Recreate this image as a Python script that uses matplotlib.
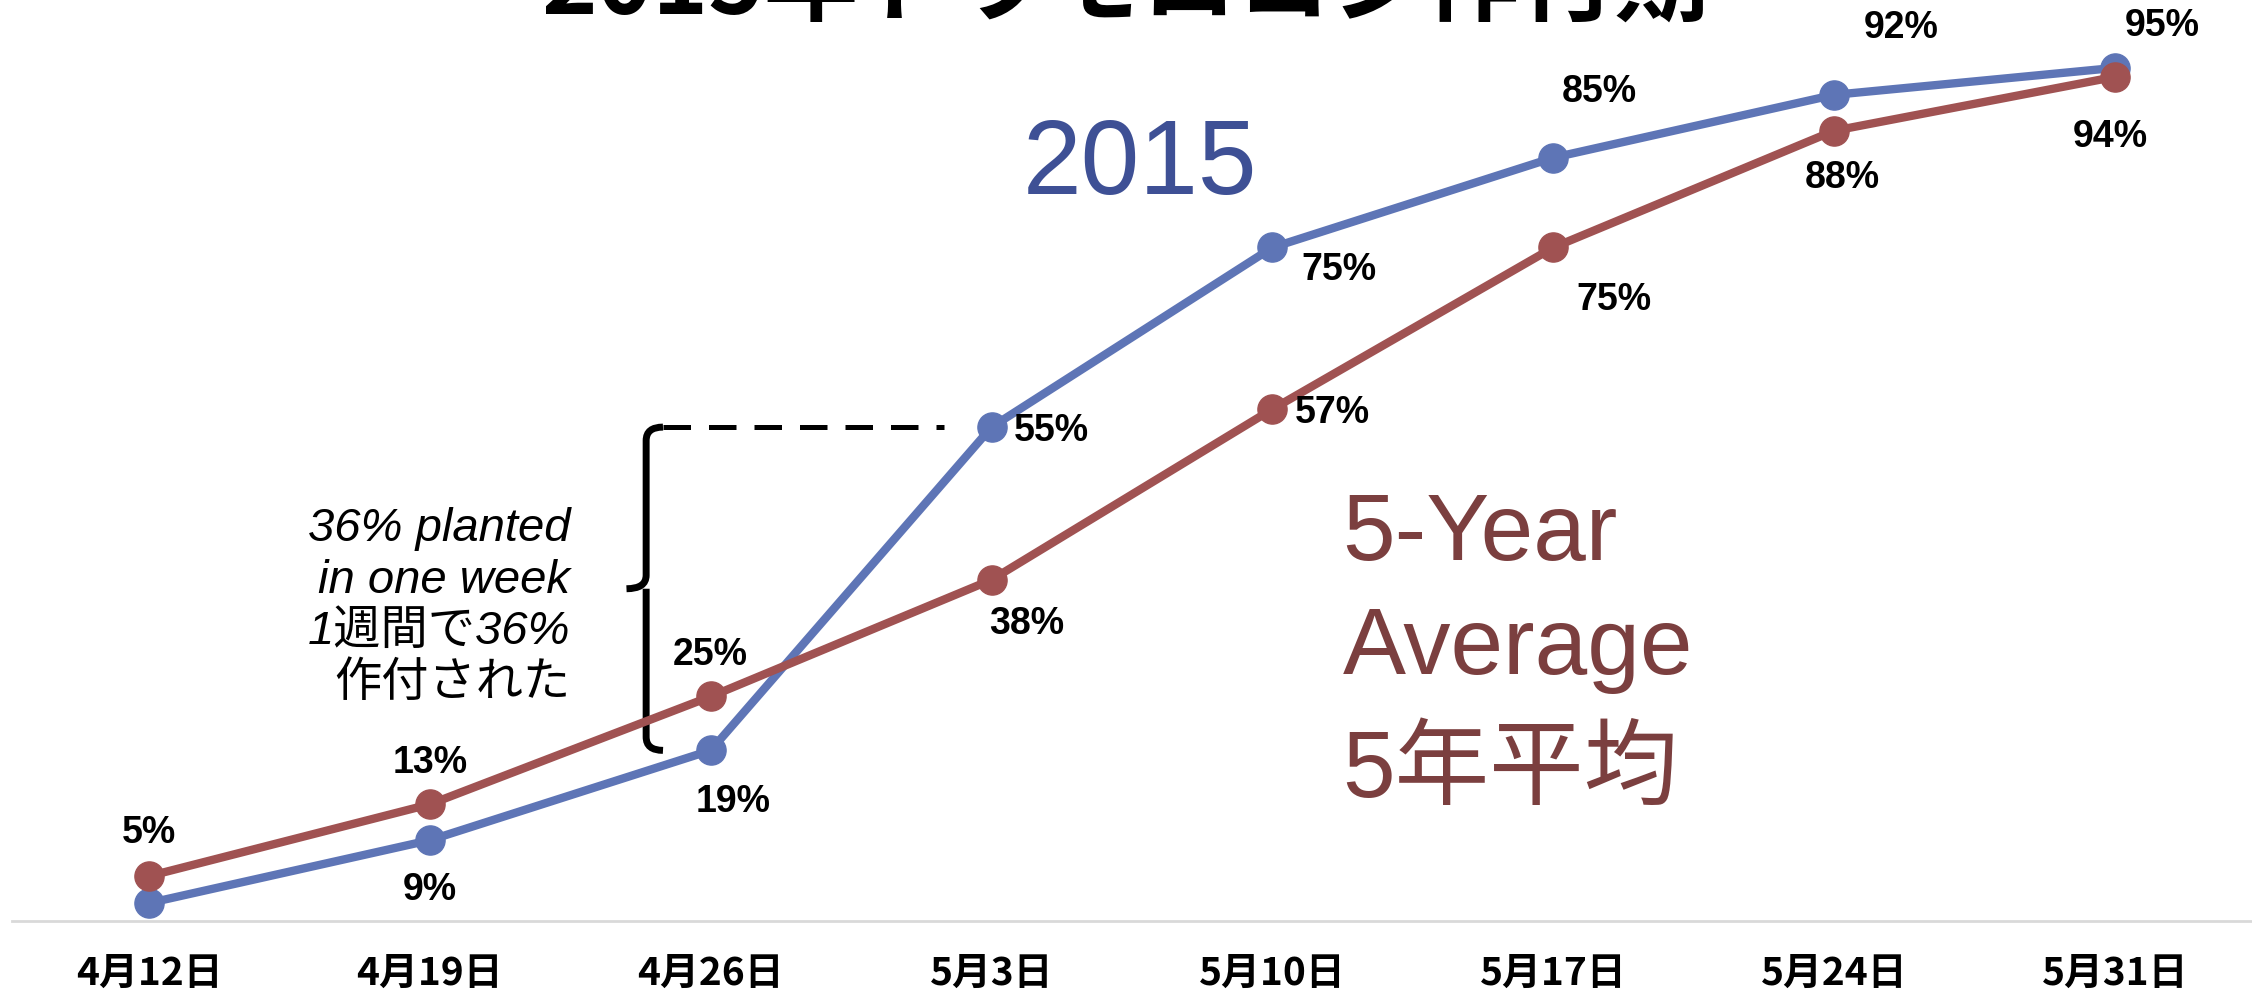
import matplotlib
matplotlib.use("Agg")
import matplotlib.pyplot as plt
from matplotlib.path import Path
from matplotlib.patches import PathPatch

# data
dates = ["4月12日", "4月19日", "4月26日", "5月3日", "5月10日", "5月17日", "5月24日", "5月31日"]
pct_2015 = [2, 9, 19, 55, 75, 85, 92, 95]
pct_5yr = [5, 13, 25, 38, 57, 75, 88, 94]
label_2015 = [False, True, True, True, True, True, True, True]
label_5yr = [True] * 8

# label offsets in points (dx, dy)
off_2015 = [(0, 0), (0, -36), (16, -37), (43, -3), (48, -16), (33, 47), (48, 48), (34, 30)]
off_5yr = [(0, 31), (0, 30), (0, 30), (25, -32), (43, -3), (44, -38), (6, -34), (-3, -43)]

blue = "#5E75B6"
red = "#A05252"
jp = ["Liberation Sans", "Noto Sans CJK JP"]

W, H = 2252, 999
fig = plt.figure(figsize=(W / 100, H / 100), dpi=100)

# plot area: baseline at 78px from bottom, x spans almost full width
ax = fig.add_axes([12 / W, 78 / H, (W - 12) / W, (H - 78) / H])
xs = list(range(len(dates)))
ax.set_xlim(-0.488, 7.488)
ax.set_ylim(0, 102.56)

for s in ["top", "left", "right"]:
    ax.spines[s].set_visible(False)
ax.spines["bottom"].set_color("#D9D9D9")
ax.spines["bottom"].set_linewidth(2)
ax.set_yticks([])
ax.set_xticks(xs)
ax.set_xticklabels(dates, fontsize=28, fontweight="bold", family=["Noto Sans CJK JP", "DejaVu Sans"])
ax.tick_params(axis="x", length=0, pad=24)

ax.plot(xs, pct_2015, color=blue, lw=6, marker="o", ms=21, clip_on=False, zorder=3)
ax.plot(xs, pct_5yr, color=red, lw=6, marker="o", ms=21, clip_on=False, zorder=4)

for vals, show, offs in [(pct_2015, label_2015, off_2015), (pct_5yr, label_5yr, off_5yr)]:
    for i, v in enumerate(vals):
        if not show[i]:
            continue
        ax.annotate("%d%%" % v, (xs[i], v), xytext=offs[i], textcoords="offset points",
                    ha="center", va="center", fontsize=27, fontweight="bold",
                    family="Liberation Sans", color="black", zorder=5)

# bracket for the jump between 4/26 and 5/3
lo, hi = pct_2015[2], pct_2015[3]
mid = (lo + hi) / 2
bx, bt, bn = 1.77, 1.83, 1.70
verts = [(bt, hi), (bx, hi), (bx, hi - 1.5),
         (bx, mid + 1.5), (bx, mid), (bn, mid),
         (bx, mid), (bx, mid - 1.5),
         (bx, lo + 1.5), (bx, lo), (bt, lo)]
codes = [Path.MOVETO, Path.CURVE3, Path.CURVE3,
         Path.LINETO, Path.CURVE3, Path.CURVE3,
         Path.MOVETO, Path.LINETO,
         Path.LINETO, Path.CURVE3, Path.CURVE3]
ax.add_patch(PathPatch(Path(verts, codes), fill=False, lw=5, color="black", capstyle="butt"))
ax.plot([bt, 2.83], [hi, hi], color="black", lw=3.6, dashes=(5.5, 3.6))

ax.text(1.50, 35, "36% planted\nin one week\n1週間で36%\n作付された", ha="right", va="center",
        multialignment="right", fontsize=34, style="italic", family=jp, linespacing=1.22)

ax.text(3.11, 81.0, "2015", fontsize=76, color="#3E5095", family="Liberation Sans",
        ha="left", va="baseline")
for txt, y in [("5-Year", 40.2), ("Average", 27.5), ("5年平均", 13.8)]:
    ax.text(4.25, y, txt, fontsize=68, color="#7B3F3F", family=jp, ha="left", va="baseline")

# title (cut off at the top edge in the original)
fig.text(0.5, 1 - 15 / H, "2015年トウモロコシ作付期", ha="center", va="baseline",
         fontsize=68, fontweight="bold", family=["Noto Sans CJK JP", "DejaVu Sans"])

fig.savefig("out.png", dpi=100)
